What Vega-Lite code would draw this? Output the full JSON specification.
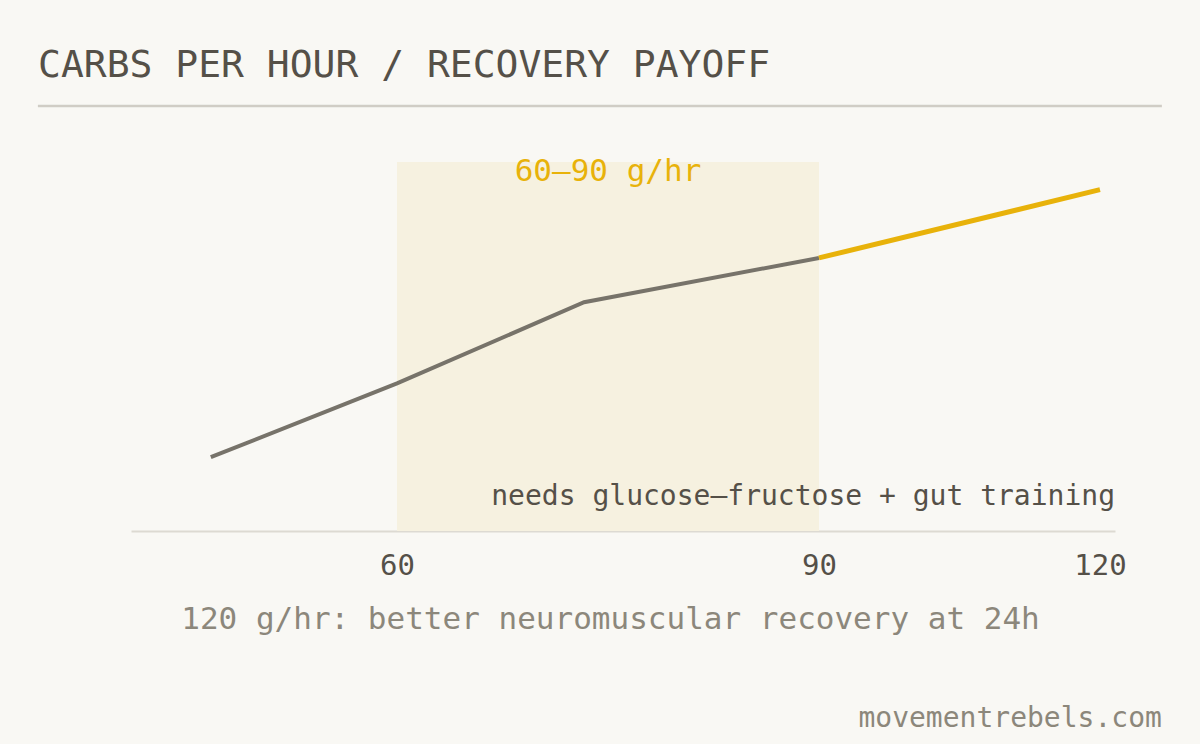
{
  "$schema": "https://vega.github.io/schema/vega-lite/v6.json",
  "autosize": {"type": "none"},
  "width": 984,
  "height": 369,
  "padding": {"left": 131, "top": 162, "right": 85, "bottom": 213},
  "background": "#f9f8f4",
  "title": {
    "text": "CARBS PER HOUR / RECOVERY PAYOFF",
    "anchor": "start",
    "frame": "group",
    "dx": -93,
    "offset": -10,
    "baseline": "alphabetic",
    "font": "DejaVu Sans Mono",
    "fontSize": 38,
    "fontWeight": "normal",
    "color": "#555048"
  },
  "datasets": {
    "curve": [
      {"carbs": 46, "recovery": 20, "segment": "base"},
      {"carbs": 60, "recovery": 40, "segment": "base"},
      {"carbs": 73.3, "recovery": 62, "segment": "base"},
      {"carbs": 90, "recovery": 74, "segment": "base"},
      {"carbs": 90, "recovery": 74, "segment": "high"},
      {"carbs": 120, "recovery": 92.5, "segment": "high"}
    ],
    "band": [{"start": 60, "end": 90, "label": "60–90 g/hr"}]
  },
  "encoding": {
    "x": {
      "type": "quantitative",
      "scale": {
        "domain": [40, 60, 90, 120, 121.6],
        "range": [0, 266, 688, 969, 984],
        "zero": false,
        "nice": false
      },
      "axis": {
        "values": [60, 90, 120],
        "title": "120 g/hr: better neuromuscular recovery at 24h",
        "titleFont": "DejaVu Sans Mono",
        "titleFontSize": 31,
        "titleFontWeight": "normal",
        "titleColor": "#8c877b",
        "titlePadding": 24,
        "titleX": 479,
        "titleAlign": "center",
        "labelFont": "DejaVu Sans Mono",
        "labelFontSize": 29,
        "labelColor": "#555048",
        "labelPadding": 20,
        "ticks": false,
        "grid": false,
        "domainColor": "#dddad2",
        "domainWidth": 2
      }
    },
    "y": {
      "type": "quantitative",
      "scale": {"domain": [0, 100], "zero": false, "nice": false},
      "axis": null
    }
  },
  "layer": [
    {
      "data": {"name": "band"},
      "mark": {"type": "rect", "color": "#f6f1e0"},
      "encoding": {
        "x": {"field": "start"},
        "x2": {"field": "end"},
        "y": {"datum": 100},
        "y2": {"datum": 0}
      }
    },
    {
      "data": {"name": "band"},
      "mark": {
        "type": "text",
        "font": "DejaVu Sans Mono",
        "fontSize": 31,
        "color": "#e8b20a",
        "baseline": "middle",
        "align": "center"
      },
      "encoding": {
        "x": {"datum": 75},
        "y": {"datum": 97.3},
        "text": {"field": "label"}
      }
    },
    {
      "data": {"name": "curve"},
      "mark": {"type": "line", "strokeCap": "butt", "strokeJoin": "miter"},
      "encoding": {
        "x": {"field": "carbs"},
        "y": {"field": "recovery"},
        "detail": {"field": "segment"},
        "color": {
          "field": "segment",
          "type": "nominal",
          "scale": {"domain": ["base", "high"], "range": ["#77736a", "#e8b20a"]},
          "legend": null
        },
        "strokeWidth": {
          "field": "segment",
          "type": "nominal",
          "scale": {"domain": ["base", "high"], "range": [4, 5]},
          "legend": null
        }
      }
    },
    {
      "data": {"values": [{"note": "needs glucose–fructose + gut training"}]},
      "mark": {
        "type": "text",
        "font": "DejaVu Sans Mono",
        "fontSize": 28,
        "color": "#555048",
        "align": "right",
        "baseline": "middle"
      },
      "encoding": {
        "x": {"datum": 121.6},
        "y": {"datum": 9.2},
        "text": {"field": "note"}
      }
    },
    {
      "data": {"values": [{"x1": 33, "x2": 126.6, "y": 115.2}]},
      "mark": {"type": "rule", "color": "#d0cdc5", "strokeWidth": 2.5},
      "encoding": {
        "x": {"field": "x1"},
        "x2": {"field": "x2"},
        "y": {"field": "y"}
      }
    },
    {
      "data": {"values": [{"site": "movementrebels.com"}]},
      "mark": {
        "type": "text",
        "font": "DejaVu Sans Mono",
        "fontSize": 28,
        "color": "#8c877b",
        "align": "right",
        "baseline": "middle"
      },
      "encoding": {
        "x": {"datum": 126.6},
        "y": {"datum": -50.9},
        "text": {"field": "site"}
      }
    }
  ],
  "config": {
    "view": {"stroke": null},
    "font": "DejaVu Sans Mono"
  }
}
